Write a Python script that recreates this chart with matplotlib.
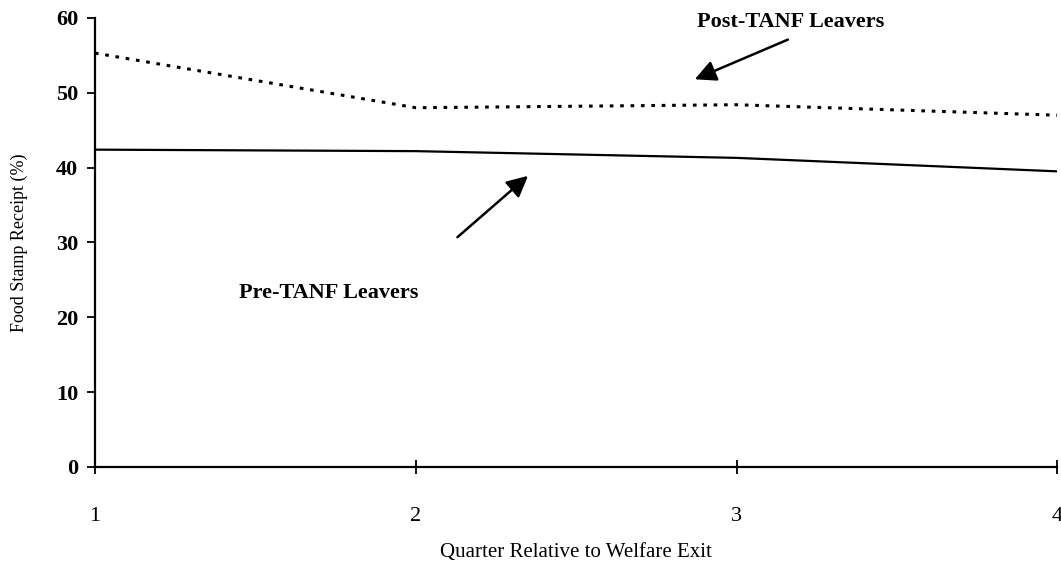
import matplotlib.pyplot as plt

plt.rcParams['font.family'] = ['Liberation Serif', 'DejaVu Serif']

quarters = [1, 2, 3, 4]
post_tanf = [55.3, 48.0, 48.4, 47.0]
pre_tanf = [42.4, 42.2, 41.3, 39.5]

fig = plt.figure(figsize=(10.61, 5.67), dpi=100)
ax = fig.add_axes([0.0895, 0.1764, 0.907, 0.792])

ax.plot(quarters, post_tanf, color='black', lw=2.2, ls=(0, (1.2, 2.2)))
ax.plot(quarters, pre_tanf, color='black', lw=1.6)

ax.set_xlim(1, 4)
ax.set_ylim(0, 60)
ax.set_xticks(quarters)
ax.set_yticks(range(0, 61, 10))
ax.tick_params(axis='x', direction='inout', length=10, width=1.3, labelsize=16, pad=24)
ax.tick_params(axis='y', direction='out', length=6, width=1.3, labelsize=16, pad=6)
for lab in ax.get_yticklabels():
    lab.set_fontweight('bold')

for s in ['top', 'right']:
    ax.spines[s].set_visible(False)
for s in ['left', 'bottom']:
    ax.spines[s].set_linewidth(1.6)
ax.spines['bottom'].set_clip_on(False)

ax.set_xlabel('Quarter Relative to Welfare Exit', fontsize=15, va='center')
ax.xaxis.set_label_coords(0.5, -0.19)
ax.set_ylabel('Food Stamp Receipt (%)', fontsize=13, labelpad=20)

arrow = dict(arrowstyle='-|>', color='black', lw=1.8, mutation_scale=32,
             shrinkA=0, shrinkB=0)
ax.text(3.17, 59.5, 'Post-TANF Leavers', fontsize=16, fontweight='bold',
        ha='center', va='center')
ax.annotate('', xy=(2.87, 51.8), xytext=(3.16, 57.1), arrowprops=arrow)
ax.text(1.73, 23.2, 'Pre-TANF Leavers', fontsize=16, fontweight='bold',
        ha='center', va='center')
ax.annotate('', xy=(2.35, 38.9), xytext=(2.13, 30.7), arrowprops=arrow)

fig.savefig('out.png', dpi=100)
